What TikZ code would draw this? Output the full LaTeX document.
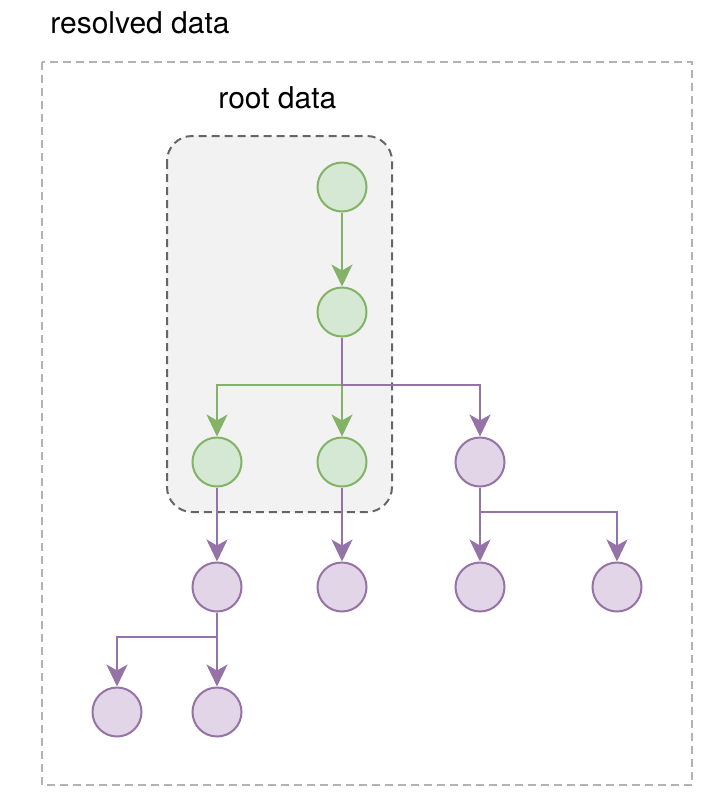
\documentclass[tikz,border=0pt]{standalone}
\usepackage{fontspec}
\setmainfont{TeX Gyre Heros}
\usetikzlibrary{arrows.meta,positioning}

\definecolor{greenfill}{HTML}{D5E8D4}
\definecolor{greenline}{HTML}{82B366}
\definecolor{purplefill}{HTML}{E1D5E7}
\definecolor{purpleline}{HTML}{9673A6}
\definecolor{rootline}{HTML}{666666}
\definecolor{rootfill}{HTML}{F2F2F2}
\definecolor{resolvedline}{HTML}{B3B3B3}

\tikzset{
  gnode/.style={circle, draw=greenline, fill=greenfill, line width=1pt, minimum size=24.5pt, inner sep=0pt},
  pnode/.style={gnode, draw=purpleline, fill=purplefill},
  garrow/.style={draw=greenline, line width=1pt, -{Stealth[length=11pt, width=10.5pt, inset=3pt]}},
  parrow/.style={garrow, draw=purpleline},
  boxlabel/.style={font=\fontsize{15}{18}\selectfont, anchor=base west, inner sep=0pt},
}

\begin{document}
\begin{tikzpicture}[x=0.5pt, y=0.5pt]
            \useasboundingbox (0,0) rectangle (725,-800);

            \draw [resolvedline, line width=1pt, dash pattern=on 4pt off 2.5pt] (42,-62) rectangle (692,-785);
            \node (resolved) [boxlabel] at (50,-33) {resolved data};

            \draw [rootline, fill=rootfill, line width=1pt, rounded corners=12.5pt, dash pattern=on 4pt off 2.5pt] (167,-136) rectangle (392,-512);
            \node (root) [boxlabel] at (218,-108) {root data};

            \node (1) [gnode] at (342,-187) {};
            \node (2) [gnode, node distance=62.5pt, below of=1] {};
            \node (3) [gnode, node distance=75pt, below of=2] {};
            \node (4) [gnode, node distance=62.5pt, left of=3] {};
            \node (5) [pnode, node distance=69pt, right of=3] {};

            \node (6) [pnode, node distance=62.5pt, below of=4] {};
            \node (7) [pnode, node distance=62.5pt, below of=3] {};
            \node (8) [pnode, node distance=62.5pt, below of=5] {};
            \node (9) [pnode, node distance=68.5pt, right of=8] {};

            \node (10) [pnode, node distance=62.5pt, below of=6] {};
            \node (11) [pnode, node distance=50pt, left of=10] {};

            \coordinate (s1) at ([yshift=-36.5pt]2.center);
            \coordinate (s2) at ([yshift=-25pt]5.center);
            \coordinate (s3) at ([yshift=-25pt]6.center);

            \draw [garrow] (1) to (2);
            \draw [garrow] (2) -- (s1) -| (4);
            \draw [garrow] (2) -- (s1) -- (3);
            \draw [parrow] (2) -- (s1) -| (5);

            \draw [parrow] (4) to (6);
            \draw [parrow] (3) to (7);
            \draw [parrow] (5) -- (s2) -- (8);
            \draw [parrow] (5) -- (s2) -| (9);

            \draw [parrow] (6) -- (s3) -- (10);
            \draw [parrow] (6) -- (s3) -| (11);
        \end{tikzpicture}
\end{document}
